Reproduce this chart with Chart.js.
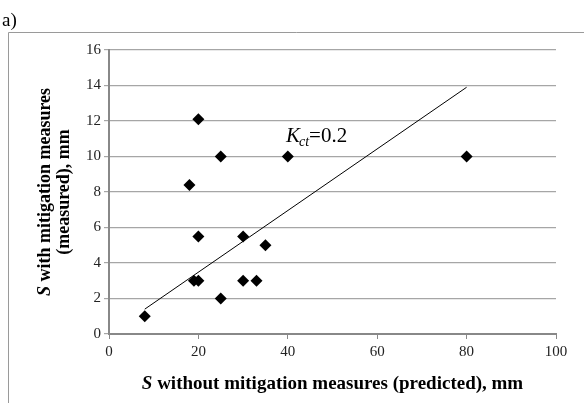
<!DOCTYPE html>
<html>
<head>
<meta charset="utf-8">
<script src="https://cdn.jsdelivr.net/npm/chart.js@4.4.0/dist/chart.umd.min.js"></script>
<style>
html,body{margin:0;padding:0;background:#fff;}
#wrap{position:relative;width:584px;height:403px;}
canvas{display:block;}
</style>
</head>
<body>
<div id="wrap"><canvas id="c" width="584" height="403"></canvas></div>
<script>
// Data
const xPredicted = [8, 19, 20, 20, 25, 30, 30, 33, 35, 18, 20, 25, 40, 80];
const yMeasured  = [1, 3, 3, 5.5, 2, 5.5, 3, 3, 5, 8.4, 12.1, 10, 10, 10];
const trendX = [8, 80];
const trendY = [1.4, 13.9];
const xTickStep = 20, xMin = 0, xMax = 100;
const yTickStep = 2, yMin = 0, yMax = 16;
const panelLabel = 'a)';
const xTitleItalic = 'S', xTitleRest = ' without mitigation measures (predicted), mm';
const yTitleItalic = 'S', yTitleRest1 = ' with mitigation measures', yTitleLine2 = '(measured), mm';
const kLabel = { main: 'K', sub: 'ct', rest: '=0.2', x: 39.6, y: 10.8 };

const SERIF = '"Liberation Serif","Times New Roman",serif';

const textPlugin = {
  id: 'texts',
  afterDraw(chart) {
    const ctx = chart.ctx;
    const area = chart.chartArea;
    ctx.save();
    // frame
    ctx.strokeStyle = '#9a9a9a';
    ctx.lineWidth = 1;
    ctx.beginPath();
    ctx.moveTo(8.5, 403);
    ctx.lineTo(8.5, 32.5);
    ctx.lineTo(584, 32.5);
    ctx.stroke();
    // panel label
    ctx.fillStyle = '#000';
    ctx.font = '19px ' + SERIF;
    ctx.textBaseline = 'alphabetic';
    ctx.textAlign = 'left';
    ctx.fillText(panelLabel, 2, 26);

    // x title
    const fI = 'italic bold 19px ' + SERIF, fB = 'bold 19px ' + SERIF;
    ctx.font = fI; const wI = ctx.measureText(xTitleItalic).width;
    ctx.font = fB; const wR = ctx.measureText(xTitleRest).width;
    const cx = (area.left + area.right) / 2;
    let sx = cx - (wI + wR) / 2;
    const by = 389;
    ctx.font = fI; ctx.fillText(xTitleItalic, sx, by);
    ctx.font = fB; ctx.fillText(xTitleRest, sx + wI, by);

    // y title (rotated)
    const cy = (area.top + area.bottom) / 2;
    const fI2 = 'italic bold 18px ' + SERIF, fB2 = 'bold 18px ' + SERIF;
    ctx.save();
    ctx.translate(50, cy);
    ctx.rotate(-Math.PI / 2);
    ctx.font = fI2; const w1 = ctx.measureText(yTitleItalic).width;
    ctx.font = fB2; const w2 = ctx.measureText(yTitleRest1).width;
    let sy = -(w1 + w2) / 2;
    ctx.font = fI2; ctx.fillText(yTitleItalic, sy, 0);
    ctx.font = fB2; ctx.fillText(yTitleRest1, sy + w1, 0);
    ctx.textAlign = 'center';
    ctx.fillText(yTitleLine2, 0, 19);
    ctx.restore();

    // K_ct label
    const xs = chart.scales.x, ys = chart.scales.y;
    let px = xs.getPixelForValue(kLabel.x), py = ys.getPixelForValue(kLabel.y);
    ctx.textAlign = 'left';
    ctx.font = 'italic 21px ' + SERIF;
    ctx.fillText(kLabel.main, px, py);
    px += ctx.measureText(kLabel.main).width;
    ctx.font = 'italic 14px ' + SERIF;
    ctx.fillText(kLabel.sub, px - 1, py + 4);
    px += ctx.measureText(kLabel.sub).width - 1;
    ctx.font = '21px ' + SERIF;
    ctx.fillText(kLabel.rest, px, py);
    ctx.restore();
  }
};

const pts = xPredicted.map((x, i) => ({ x: x, y: yMeasured[i] }));
const trend = trendX.map((x, i) => ({ x: x, y: trendY[i] }));

new Chart(document.getElementById('c'), {
  type: 'scatter',
  data: {
    datasets: [
      {
        data: pts,
        pointStyle: 'rectRot',
        pointRadius: 6,
        pointHoverRadius: 6,
        backgroundColor: '#000',
        borderColor: '#000',
        borderWidth: 0
      },
      {
        data: trend,
        showLine: true,
        pointRadius: 0,
        borderColor: '#000',
        borderWidth: 1,
        fill: false
      }
    ]
  },
  options: {
    responsive: false,
    animation: false,
    events: [],
    layout: { padding: { left: 0, right: 28, top: 50, bottom: 0 } },
    plugins: { legend: { display: false }, tooltip: { enabled: false }, title: { display: false } },
    scales: {
      x: {
        type: 'linear', min: xMin, max: xMax,
        ticks: { stepSize: xTickStep, color: '#222', padding: 4, font: { family: SERIF, size: 15 } },
        grid: { drawOnChartArea: false, drawTicks: true, tickLength: 5, color: '#888', lineWidth: 1 },
        border: { color: '#888', width: 2 },
        afterFit(s) { s.height = 69; }
      },
      y: {
        type: 'linear', min: yMin, max: yMax,
        ticks: { stepSize: yTickStep, color: '#222', padding: 3, font: { family: SERIF, size: 15 } },
        grid: { drawTicks: true, tickLength: 5, color: '#a6a6a6', lineWidth: 1.2 },
        border: { color: '#888', width: 2 },
        afterFit(s) { s.width = 109; }
      }
    }
  },
  plugins: [textPlugin]
});
</script>
</body>
</html>
